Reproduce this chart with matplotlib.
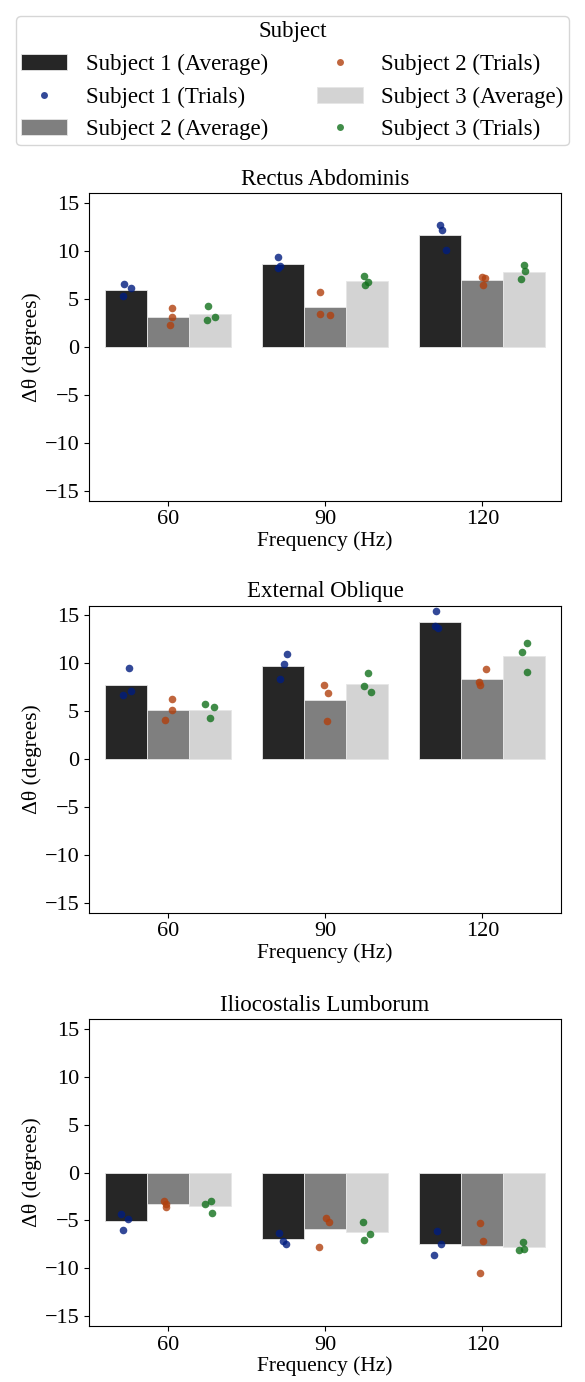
import numpy as np
import matplotlib
matplotlib.use("Agg")
import matplotlib.pyplot as plt
from matplotlib.patches import Patch
from matplotlib.lines import Line2D

plt.rcParams['font.family'] = ['Liberation Serif', 'DejaVu Serif']
plt.rcParams['mathtext.fontset'] = 'stix'

frequencies = ["60", "90", "120"]
subjects = ["Subject 1", "Subject 2", "Subject 3"]
muscles = ["Rectus Abdominis", "External Oblique", "Iliocostalis Lumborum"]

# averages [muscle][subject][frequency]
avg_rectus = [[5.93, 8.63, 11.68], [3.12, 4.10, 6.93], [3.37, 6.90, 7.80]]
avg_oblique = [[7.73, 9.71, 14.26], [5.17, 6.21, 8.40], [5.17, 7.87, 10.75]]
avg_ilio = [[-5.02, -6.96, -7.41], [-3.29, -5.88, -7.61], [-3.50, -6.19, -7.76]]

# trials [subject][frequency][trial]
trials_rectus = [
    [[6.52, 6.07, 5.24], [9.36, 8.46, 8.18], [12.72, 12.13, 10.05]],
    [[4.05, 3.09, 2.29], [5.69, 3.40, 3.33], [7.28, 7.14, 6.44]],
    [[4.26, 3.06, 2.78], [7.38, 6.79, 6.48], [8.49, 7.87, 7.07]],
]
trials_oblique = [
    [[9.47, 7.08, 6.69], [11.00, 9.96, 8.32], [15.40, 13.84, 13.63]],
    [[6.31, 5.13, 4.13], [7.73, 6.90, 3.99], [9.40, 8.08, 7.77]],
    [[5.75, 5.44, 4.34], [8.95, 7.63, 7.04], [12.14, 11.13, 9.13]],
]
trials_ilio = [
    [[-4.33, -4.88, -5.99], [-6.33, -7.13, -7.45], [-6.09, -7.48, -8.62]],
    [[-2.98, -3.25, -3.56], [-4.71, -5.12, -7.79], [-5.23, -7.10, -10.49]],
    [[-3.32, -3.01, -4.22], [-5.12, -6.44, -7.03], [-7.20, -8.00, -8.10]],
]

# strip-plot jitter (category units)
jitter_rectus = [
    [[-0.013, 0.032, -0.019], [-0.029, -0.018, -0.030], [-0.002, 0.013, 0.034]],
    [[0.027, 0.027, 0.017], [-0.030, -0.030, 0.030], [-0.004, 0.019, 0.006]],
    [[-0.011, 0.032, -0.019], [-0.019, 0.004, -0.011], [-0.002, 0.006, -0.023]],
]
jitter_oblique = [
    [[0.023, 0.032, -0.017], [0.022, 0.008, -0.018], [-0.029, -0.032, -0.017]],
    [[0.027, 0.025, -0.017], [-0.006, 0.019, 0.011], [0.022, -0.021, -0.015]],
    [[-0.030, 0.030, 0.004], [0.008, -0.021, 0.025], [0.015, -0.017, 0.015]],
]
jitter_ilio = [
    [[-0.032, 0.015, -0.015], [-0.024, -0.003, 0.016], [-0.023, 0.006, -0.040]],
    [[-0.023, -0.009, -0.011], [0.004, 0.025, -0.040], [-0.015, 0.006, -0.017]],
    [[-0.032, 0.006, 0.015], [-0.027, 0.021, -0.021], [-0.010, -0.004, -0.036]],
]

bar_colors = ["#262626", "#7f7f7f", "#d3d3d3"]
point_colors = ["#001c7f", "#b1400d", "#12711c"]

W, H = 585, 1382
fig = plt.figure(figsize=(W / 100, H / 100), dpi=100)

panels = [
    (muscles[0], avg_rectus, trials_rectus, jitter_rectus, 193, 500.7),
    (muscles[1], avg_oblique, trials_oblique, jitter_oblique, 605.7, 912.7),
    (muscles[2], avg_ilio, trials_ilio, jitter_ilio, 1019, 1326),
]

left_px, right_px = 89, 561
bw = 0.8 / 3
x = np.arange(len(frequencies))
for title, avgs, trials, jit, top_px, bot_px in panels:
    ax = fig.add_axes([left_px / W, 1 - bot_px / H, (right_px - left_px) / W, (bot_px - top_px) / H])
    for s in range(3):
        centers = x + (s - 1) * bw
        ax.bar(centers, avgs[s], width=bw, color=bar_colors[s], edgecolor="#e6e6e6",
               linewidth=0.6, zorder=1)
        for f in range(3):
            xs = centers[f] + np.array(jit[s][f])
            ax.scatter(xs, trials[s][f], s=30, color=point_colors[s], alpha=0.8,
                       linewidths=0, zorder=3)
    ax.set_xlim(-0.5, 2.5)
    ax.set_ylim(-16, 16)
    ax.set_xticks(x)
    ax.set_xticklabels(frequencies)
    ax.set_yticks([-15, -10, -5, 0, 5, 10, 15])
    ax.tick_params(labelsize=16)
    ax.set_title(title, fontsize=16.5, pad=6)
    ax.set_xlabel("Frequency (Hz)", fontsize=15.5, labelpad=1)
    ax.set_ylabel("Δθ (degrees)", fontsize=15.5, labelpad=2)

handles = []
labels = []
for s in range(3):
    handles.append(Patch(facecolor=bar_colors[s], edgecolor="#e6e6e6", linewidth=0.6))
    labels.append(f"{subjects[s]} (Average)")
    handles.append(Line2D([], [], marker="o", linestyle="", markersize=5,
                          markerfacecolor=point_colors[s], markeredgewidth=0, alpha=0.8))
    labels.append(f"{subjects[s]} (Trials)")

fig.legend(handles, labels, loc="upper center", bbox_to_anchor=(0.5, 0.9965), ncol=2,
           title="Subject", fontsize=16.5, title_fontsize=16.5, handlelength=2.0,
           columnspacing=2.15, labelspacing=0.5, borderpad=0.22)

fig.savefig("out.png", dpi=100)
